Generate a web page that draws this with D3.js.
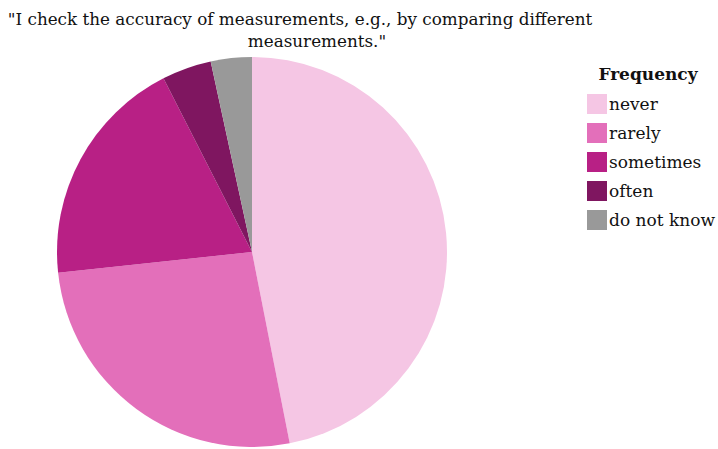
<!DOCTYPE html>
<html>
<head>
<meta charset="utf-8">
<script src="https://cdn.jsdelivr.net/npm/d3@7"></script>
<style>
  body { margin: 0; background: #fff; }
  text { font-family: "DejaVu Serif", "Liberation Serif", serif; fill: #111; }
</style>
</head>
<body>
<div id="chart"></div>
<script>
// values (share of answers, %)
var categories = ["never", "rarely", "sometimes", "often", "do not know"];
var shares = [46.9, 26.4, 19.2, 4.1, 3.4];
var colours = ["#f5c6e4", "#e36fba", "#b82085", "#7f1660", "#999999"];
var titleLines = ["\"I check the accuracy of measurements, e.g., by comparing different", "measurements.\""];
var legendTitle = "Frequency";

var width = 718,
    height = 449,
    radius = 195;

var svg = d3.select("#chart")
    .append("svg")
    .attr("width", width)
    .attr("height", height);

var data = categories.map(function(c, i) { return { cat: c, value: shares[i] }; });

var colour = d3.scaleOrdinal()
    .domain(categories)
    .range(colours);

var pie = d3.pie()
    .sort(null)
    .value(function(d) { return d.value; });

var arc = d3.arc()
    .innerRadius(0)
    .outerRadius(radius);

var g = svg.append("g")
    .attr("transform", "translate(252,252)");

g.selectAll("path")
    .data(pie(data))
    .enter().append("path")
    .attr("d", arc)
    .attr("fill", function(d) { return colour(d.data.cat); });

// title, two centred lines
svg.selectAll(".title")
    .data(titleLines)
    .enter().append("text")
    .attr("class", "title")
    .attr("x", function(d, i) { return i === 0 ? 300 : 317; })
    .attr("y", function(d, i) { return 25 + i * 22; })
    .attr("text-anchor", "middle")
    .style("font-size", "16.8px")
    .text(function(d) { return d; });

// legend
var legend = svg.append("g")
    .attr("transform", "translate(587,0)");

legend.append("text")
    .attr("x", 61)
    .attr("y", 80)
    .attr("text-anchor", "middle")
    .style("font-size", "17px")
    .style("font-weight", "bold")
    .text(legendTitle);

var item = legend.selectAll(".item")
    .data(categories)
    .enter().append("g")
    .attr("class", "item")
    .attr("transform", function(d, i) { return "translate(0," + (94 + i * 29) + ")"; });

item.append("rect")
    .attr("width", 20)
    .attr("height", 20)
    .attr("fill", function(d) { return colour(d); });

item.append("text")
    .attr("x", 22)
    .attr("y", 16)
    .style("font-size", "17px")
    .text(function(d) { return d; });
</script>
</body>
</html>
